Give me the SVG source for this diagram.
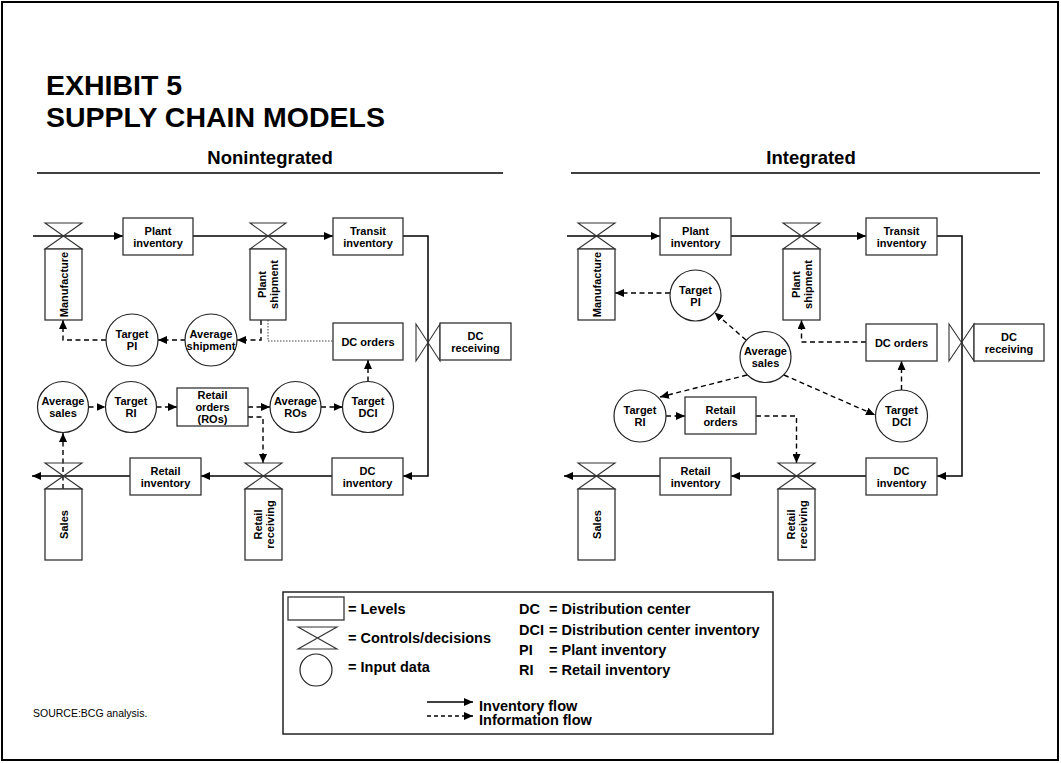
<svg xmlns="http://www.w3.org/2000/svg" width="1061" height="763" viewBox="0 0 1061 763">
<defs>
<marker id="ah" markerUnits="userSpaceOnUse" markerWidth="9" markerHeight="8" refX="9" refY="4" orient="auto"><path d="M0,0 L9,4 L0,8 Z" fill="#000"/></marker>
<style>
.bx{fill:#fff;stroke:#333;stroke-width:1.3}
.vl{fill:none;stroke:#333;stroke-width:1.1}
.ci{fill:#fff;stroke:#222;stroke-width:1.2}
.t{font-family:"Liberation Sans",Arial,sans-serif;font-weight:bold;font-size:11px;text-anchor:middle;fill:#000}
.fl{fill:none;stroke:#000;stroke-width:1.5}
.in{fill:none;stroke:#000;stroke-width:1.4;stroke-dasharray:5,3.5}
.dt{fill:none;stroke:#444;stroke-width:1;stroke-dasharray:1.5,1.5}
.lg{font-family:"Liberation Sans",Arial,sans-serif;font-weight:bold;font-size:14.5px;fill:#000}
</style>
</defs>
<rect x="2" y="2" width="1056" height="758" fill="#fff" stroke="#000" stroke-width="2"/>
<g id="title">
<text x="46" y="95" style="font-family:'Liberation Sans',Arial,sans-serif;font-weight:bold;font-size:28.5px">EXHIBIT 5</text>
<text x="46" y="127" style="font-family:'Liberation Sans',Arial,sans-serif;font-weight:bold;font-size:28.5px">SUPPLY CHAIN MODELS</text>
<text x="270" y="164" style="font-family:'Liberation Sans',Arial,sans-serif;font-weight:bold;font-size:18.5px;text-anchor:middle">Nonintegrated</text>
<line x1="37" y1="173" x2="503" y2="173" stroke="#000" stroke-width="1.5"/>
<text x="811" y="164" style="font-family:'Liberation Sans',Arial,sans-serif;font-weight:bold;font-size:18.5px;text-anchor:middle">Integrated</text>
<line x1="571" y1="173" x2="1040" y2="173" stroke="#000" stroke-width="1.5"/>
</g>

<!-- connectors -->
<g id="connectors">
<!-- left inventory flows -->
<path class="fl" d="M33,236 H123" marker-end="url(#ah)"/>
<path class="fl" d="M193,236 H333" marker-end="url(#ah)"/>
<path class="fl" d="M403,236 H428 V476 H403" marker-end="url(#ah)"/>
<path class="fl" d="M332,476 H201" marker-end="url(#ah)"/>
<path class="fl" d="M130,476 H32" marker-end="url(#ah)"/>
<!-- left information flows -->
<path class="in" d="M261,320 V340 H237" marker-end="url(#ah)"/>
<path class="dt" d="M268,320 V341 H333"/>
<path class="in" d="M185.5,340 H158" marker-end="url(#ah)"/>
<path class="in" d="M106,340 H63 V320" marker-end="url(#ah)"/>
<path class="in" d="M63,489 V433" marker-end="url(#ah)"/>
<path class="in" d="M88.5,407 H105.5" marker-end="url(#ah)"/>
<path class="in" d="M156.5,407 H177" marker-end="url(#ah)"/>
<path class="in" d="M248,407 H270" marker-end="url(#ah)"/>
<path class="in" d="M248,417 H263 V463" marker-end="url(#ah)"/>
<path class="in" d="M321,407 H342.5" marker-end="url(#ah)"/>
<path class="in" d="M368,381.5 V360" marker-end="url(#ah)"/>
<!-- right inventory flows -->
<path class="fl" d="M567,236 H660" marker-end="url(#ah)"/>
<path class="fl" d="M731,236 H866" marker-end="url(#ah)"/>
<path class="fl" d="M937,236 H962 V476 H937" marker-end="url(#ah)"/>
<path class="fl" d="M866,476 H731" marker-end="url(#ah)"/>
<path class="fl" d="M660,476 H564" marker-end="url(#ah)"/>
<!-- right information flows -->
<path class="in" d="M866,342 H801.5 V320" marker-end="url(#ah)"/>
<path class="in" d="M670,293 H615" marker-end="url(#ah)"/>
<path class="in" d="M746,340 L714.5,312.5" marker-end="url(#ah)"/>
<path class="in" d="M747,375 L660,397" marker-end="url(#ah)"/>
<path class="in" d="M784,375 L875,415" marker-end="url(#ah)"/>
<path class="in" d="M666,416 H685" marker-end="url(#ah)"/>
<path class="in" d="M756,416 H796.5 V463" marker-end="url(#ah)"/>
<path class="in" d="M901.5,390 V361" marker-end="url(#ah)"/>
</g>

<!-- LEFT nodes -->
<g id="L-manufacture">
<path class="vl" d="M45,223 H82 L45,249 H82 Z"/>
<rect class="bx" x="45" y="249" width="37" height="71"/>
<text class="t" transform="translate(63.5,284.5) rotate(-90)" y="4">Manufacture</text>
</g>
<g id="L-plant-inventory">
<rect class="bx" x="123" y="218" width="70" height="37"/>
<text class="t" x="158" y="234.5">Plant</text><text class="t" x="158" y="246.5">inventory</text>
</g>
<g id="L-plant-shipment">
<path class="vl" d="M250,223 H286 L250,249 H286 Z"/>
<rect class="bx" x="250" y="249" width="36" height="71"/>
<text class="t" transform="translate(268,284.5) rotate(-90)"><tspan x="0" y="-2">Plant</tspan><tspan x="0" y="10">shipment</tspan></text>
</g>
<g id="L-transit-inventory">
<rect class="bx" x="333" y="218" width="70" height="37"/>
<text class="t" x="368" y="234.5">Transit</text><text class="t" x="368" y="246.5">inventory</text>
</g>
<g id="L-dc-receiving">
<path class="vl" d="M416,324 V361 L440,324 V361 Z"/>
<rect class="bx" x="440" y="323" width="71" height="37"/>
<text class="t" x="475.5" y="339.5">DC</text><text class="t" x="475.5" y="351.5">receiving</text>
</g>
<g id="L-dc-orders">
<rect class="bx" x="333" y="323" width="70" height="37"/>
<text class="t" x="368" y="345.5">DC orders</text>
</g>
<g id="L-dc-inventory">
<rect class="bx" x="332" y="458" width="71" height="37"/>
<text class="t" x="367.5" y="474.5">DC</text><text class="t" x="367.5" y="486.5">inventory</text>
</g>
<g id="L-retail-inventory">
<rect class="bx" x="130" y="458" width="71" height="37"/>
<text class="t" x="165.5" y="474.5">Retail</text><text class="t" x="165.5" y="486.5">inventory</text>
</g>
<g id="L-retail-receiving">
<path class="vl" d="M245,463 H282 L245,489 H282 Z"/>
<rect class="bx" x="245" y="489" width="37" height="71"/>
<text class="t" transform="translate(263.5,524.5) rotate(-90)"><tspan x="0" y="-2">Retail</tspan><tspan x="0" y="10">receiving</tspan></text>
</g>
<g id="L-sales">
<path class="vl" d="M45,463 H82 L45,489 H82 Z"/>
<rect class="bx" x="45" y="489" width="37" height="71"/>
<text class="t" transform="translate(63.5,524.5) rotate(-90)" y="4">Sales</text>
</g>
<g id="L-target-pi">
<circle class="ci" cx="132" cy="340" r="26"/>
<text class="t" x="132" y="338">Target</text><text class="t" x="132" y="350">PI</text>
</g>
<g id="L-average-shipment">
<circle class="ci" cx="211" cy="340" r="26"/>
<text class="t" x="211" y="338">Average</text><text class="t" x="211" y="350">shipment</text>
</g>
<g id="L-average-sales">
<circle class="ci" cx="63" cy="407" r="25.5"/>
<text class="t" x="63" y="405">Average</text><text class="t" x="63" y="417">sales</text>
</g>
<g id="L-target-ri">
<circle class="ci" cx="131" cy="407" r="25.5"/>
<text class="t" x="131" y="405">Target</text><text class="t" x="131" y="417">RI</text>
</g>
<g id="L-retail-orders">
<rect class="bx" x="177" y="388" width="71" height="38"/>
<text class="t" x="212.5" y="399">Retail</text><text class="t" x="212.5" y="411">orders</text><text class="t" x="212.5" y="423">(ROs)</text>
</g>
<g id="L-average-ros">
<circle class="ci" cx="295.5" cy="407" r="25.5"/>
<text class="t" x="295.5" y="405">Average</text><text class="t" x="295.5" y="417">ROs</text>
</g>
<g id="L-target-dci">
<circle class="ci" cx="368" cy="407" r="25.5"/>
<text class="t" x="368" y="405">Target</text><text class="t" x="368" y="417">DCI</text>
</g>

<!-- RIGHT nodes -->
<g id="R-manufacture">
<path class="vl" d="M578,223 H615 L578,249 H615 Z"/>
<rect class="bx" x="578" y="249" width="37" height="71"/>
<text class="t" transform="translate(596.5,284.5) rotate(-90)" y="4">Manufacture</text>
</g>
<g id="R-plant-inventory">
<rect class="bx" x="660" y="218" width="71" height="37"/>
<text class="t" x="695.5" y="234.5">Plant</text><text class="t" x="695.5" y="246.5">inventory</text>
</g>
<g id="R-plant-shipment">
<path class="vl" d="M783,223 H820 L783,249 H820 Z"/>
<rect class="bx" x="783" y="249" width="37" height="71"/>
<text class="t" transform="translate(801.5,284.5) rotate(-90)"><tspan x="0" y="-2">Plant</tspan><tspan x="0" y="10">shipment</tspan></text>
</g>
<g id="R-transit-inventory">
<rect class="bx" x="866" y="218" width="71" height="37"/>
<text class="t" x="901.5" y="234.5">Transit</text><text class="t" x="901.5" y="246.5">inventory</text>
</g>
<g id="R-dc-receiving">
<path class="vl" d="M949,324 V361 L974,324 V361 Z"/>
<rect class="bx" x="974" y="324" width="70" height="37"/>
<text class="t" x="1009" y="340.5">DC</text><text class="t" x="1009" y="352.5">receiving</text>
</g>
<g id="R-dc-orders">
<rect class="bx" x="866" y="324" width="71" height="37"/>
<text class="t" x="901.5" y="346.5">DC orders</text>
</g>
<g id="R-dc-inventory">
<rect class="bx" x="866" y="458" width="71" height="37"/>
<text class="t" x="901.5" y="474.5">DC</text><text class="t" x="901.5" y="486.5">inventory</text>
</g>
<g id="R-retail-inventory">
<rect class="bx" x="660" y="458" width="71" height="37"/>
<text class="t" x="695.5" y="474.5">Retail</text><text class="t" x="695.5" y="486.5">inventory</text>
</g>
<g id="R-retail-receiving">
<path class="vl" d="M778,463 H815 L778,489 H815 Z"/>
<rect class="bx" x="778" y="489" width="37" height="71"/>
<text class="t" transform="translate(796.5,524.5) rotate(-90)"><tspan x="0" y="-2">Retail</tspan><tspan x="0" y="10">receiving</tspan></text>
</g>
<g id="R-sales">
<path class="vl" d="M578,463 H615 L578,489 H615 Z"/>
<rect class="bx" x="578" y="489" width="37" height="71"/>
<text class="t" transform="translate(596.5,524.5) rotate(-90)" y="4">Sales</text>
</g>
<g id="R-target-pi">
<circle class="ci" cx="695.5" cy="295.5" r="25.5"/>
<text class="t" x="695.5" y="293.5">Target</text><text class="t" x="695.5" y="305.5">PI</text>
</g>
<g id="R-average-sales">
<circle class="ci" cx="765.5" cy="357" r="25.5"/>
<text class="t" x="765.5" y="355">Average</text><text class="t" x="765.5" y="367">sales</text>
</g>
<g id="R-target-ri">
<circle class="ci" cx="640" cy="416" r="26"/>
<text class="t" x="640" y="414">Target</text><text class="t" x="640" y="426">RI</text>
</g>
<g id="R-retail-orders">
<rect class="bx" x="685" y="397" width="71" height="37"/>
<text class="t" x="720.5" y="413.5">Retail</text><text class="t" x="720.5" y="425.5">orders</text>
</g>
<g id="R-target-dci">
<circle class="ci" cx="901.5" cy="416" r="26"/>
<text class="t" x="901.5" y="414">Target</text><text class="t" x="901.5" y="426">DCI</text>
</g>

<!-- legend -->
<g id="legend">
<rect x="283" y="592" width="490" height="142" fill="#fff" stroke="#222" stroke-width="1.5"/>
<rect class="bx" x="288" y="597" width="56" height="23"/>
<text class="lg" x="348" y="614">= Levels</text>
<path class="vl" d="M298,627 H337 L298,649 H337 Z"/>
<text class="lg" x="348" y="643">= Controls/decisions</text>
<circle class="ci" cx="316" cy="670" r="16"/>
<text class="lg" x="348" y="672">= Input data</text>
<text class="lg" x="519" y="614">DC</text><text class="lg" x="549" y="614">= Distribution center</text>
<text class="lg" x="519" y="635">DCI</text><text class="lg" x="549" y="635">= Distribution center inventory</text>
<text class="lg" x="519" y="655">PI</text><text class="lg" x="549" y="655">= Plant inventory</text>
<text class="lg" x="519" y="675">RI</text><text class="lg" x="549" y="675">= Retail inventory</text>
<path d="M427,702 H473" stroke="#000" stroke-width="1.3" marker-end="url(#ah)"/>
<text class="lg" x="479" y="711">Inventory flow</text>
<path d="M427,716 H473" stroke="#000" stroke-width="1.3" stroke-dasharray="4,3" marker-end="url(#ah)"/>
<text class="lg" x="479" y="725">Information flow</text>
</g>
<text x="33" y="717" style="font-family:'Liberation Sans',Arial,sans-serif;font-size:10.5px">SOURCE:BCG analysis.</text>
</svg>
